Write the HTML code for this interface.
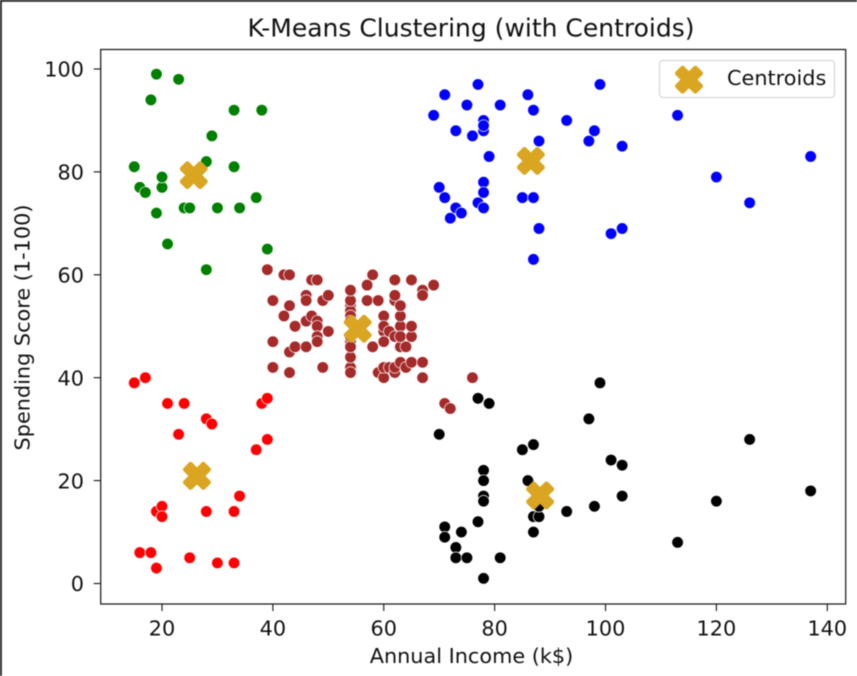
<!DOCTYPE html>
<html>
<head>
<meta charset="utf-8">
<title>K-Means Clustering (with Centroids)</title>
<style>
html,body{margin:0;padding:0;background:#fff;}
body{width:857px;height:676px;overflow:hidden;}
svg{display:block;filter:blur(0.45px);}
text{font-family:"DejaVu Sans","Liberation Sans",sans-serif;fill:#111;}
</style>
</head>
<body>
<svg id="chart" xmlns="http://www.w3.org/2000/svg" width="857" height="676" viewBox="0 0 857 676">
  <rect x="0" y="0" width="857" height="676" fill="#fff"/>
  <path d="M0 680V0H860" fill="none" stroke="#1a1a1a" stroke-width="3.6"/>
  <rect x="100.7" y="49.5" width="745" height="554.5" fill="#fff"/>
  <g id="clusters"></g>
  <g id="centroids"></g>
  <rect x="100.7" y="49.5" width="745" height="554.5" fill="none" stroke="#111" stroke-width="1.2"/>
  <g id="x-ticks"></g>
  <g id="y-ticks"></g>
  <text x="471" y="36.5" font-size="25" text-anchor="middle">K-Means Clustering (with Centroids)</text>
  <text x="471.5" y="663" font-size="20.8" text-anchor="middle">Annual Income (k$)</text>
  <text transform="translate(29.5,327.5) rotate(-90)" font-size="20.8" text-anchor="middle">Spending Score (1-100)</text>
  <g>
    <rect x="659.5" y="60.5" width="175" height="37" rx="3.5" fill="#fff" fill-opacity="0.8" stroke="#d6d6d6" stroke-width="1.2"/>
    <g id="legend-marker"></g>
    <text x="727" y="85" font-size="20.8">Centroids</text>
  </g>
</svg>
<script>
// Green cluster: low income, high spending
const greenIncome = [15,16,17,18,19,19,20,20,21,23,24,25,28,28,29,30,33,33,34,37,38,39];
const greenScore  = [81,77,76,94,99,72,77,79,66,98,73,73,82,61,87,73,92,81,73,75,92,65];
// Red cluster: low income, low spending
const redIncome = [15,16,17,18,19,19,20,20,21,23,24,25,28,28,29,30,33,33,34,37,38,39,39];
const redScore  = [39,6,40,6,3,14,15,13,35,29,35,5,14,32,31,4,4,14,17,26,35,36,28];
// Brown cluster: middle income, middle spending
const brownIncome = [39,40,40,40,40,42,42,43,43,43,43,44,44,46,46,46,46,47,47,48,48,48,48,48,48,49,49,50,50,54,54,54,54,54,54,54,54,54,54,54,54,57,57,58,58,59,59,60,60,60,60,60,60,61,61,62,62,62,62,62,62,63,63,63,63,63,63,64,64,65,65,65,65,67,67,67,67,69,71,72,76];
const brownScore  = [61,55,47,42,42,52,60,54,60,45,41,50,46,51,46,56,55,52,59,51,59,50,48,59,47,55,42,49,56,47,54,53,48,52,42,51,55,41,44,57,46,58,55,60,46,55,41,49,40,42,52,47,50,42,49,41,48,59,55,56,42,50,46,43,48,52,54,42,46,48,50,43,59,43,57,56,40,58,35,34,40];
// Black cluster: high income, low spending
const blackIncome = [70,71,71,73,73,73,74,75,77,77,78,78,78,78,78,79,81,85,86,87,87,87,88,88,93,97,98,99,101,103,103,113,120,126,137];
const blackScore  = [29,11,9,5,7,5,10,5,36,12,22,17,20,16,1,35,5,26,20,27,13,10,13,15,14,32,15,39,24,17,23,8,16,28,18];
// Blue cluster: high income, high spending
const blueIncome = [69,70,71,71,72,73,73,74,75,76,77,77,78,78,78,78,78,78,79,81,85,86,87,87,87,88,88,93,97,98,99,101,103,103,113,120,126,137];
const blueScore  = [91,77,95,75,71,88,73,72,93,87,97,74,90,88,78,73,76,89,83,93,75,95,63,75,92,86,69,90,86,88,97,68,85,69,91,79,74,83];
// K-means centroids
const centroidIncome = [26.3,25.73,55.3,88.2,86.54];
const centroidScore  = [20.91,79.36,49.52,17.11,82.13];
// Axis ticks
const xTickLabels = [20,40,60,80,100,120,140];
const yTickLabels = [0,20,40,60,80,100];

const NS = 'http://www.w3.org/2000/svg';
function xScale(v){ return 162 + (v - 20) * 5.544; }
function yScale(v){ return 583.5 - v * 5.145; }

function xMarkerPoints(cx, cy, u){
  const shape = [[-1,-2],[0,-1],[1,-2],[2,-1],[1,0],[2,1],[1,2],[0,1],[-1,2],[-2,1],[-1,0],[-2,-1]];
  return shape.map(function(p){ return (cx + p[0]*u) + ',' + (cy + p[1]*u); }).join(' ');
}

function drawCluster(parentEl, incomes, scores, color){
  for (let i = 0; i < incomes.length; i++) {
    const dot = document.createElementNS(NS, 'circle');
    
    
    dot.setAttribute('cx', xScale(incomes[i]));
    dot.setAttribute('cy', yScale(scores[i]));
    dot.setAttribute('r', 5.8);
    dot.setAttribute('fill', color);
    dot.setAttribute('stroke', '#fff');
    dot.setAttribute('stroke-width', 0.7);
    parentEl.appendChild(dot);
  }
}

const clustersEl = document.getElementById('clusters');
drawCluster(clustersEl, greenIncome, greenScore, '#008000');
drawCluster(clustersEl, redIncome, redScore, '#ff0000');
drawCluster(clustersEl, brownIncome, brownScore, '#a52a2a');
drawCluster(clustersEl, blackIncome, blackScore, '#000000');
drawCluster(clustersEl, blueIncome, blueScore, '#0000ff');

const centroidsEl = document.getElementById('centroids');
for (let i = 0; i < centroidIncome.length; i++) {
  const marker = document.createElementNS(NS, 'polygon');
  
  
  marker.setAttribute('points', xMarkerPoints(xScale(centroidIncome[i]), yScale(centroidScore[i]), 6.4));
  marker.setAttribute('fill', '#daa520');
  marker.setAttribute('stroke', '#daa520');
  marker.setAttribute('stroke-width', 3);
  marker.setAttribute('stroke-linejoin', 'bevel');
  centroidsEl.appendChild(marker);
}

const legendMarkerEl = document.createElementNS(NS, 'polygon');


legendMarkerEl.setAttribute('points', xMarkerPoints(689, 79.7, 6.4));
legendMarkerEl.setAttribute('fill', '#daa520');
legendMarkerEl.setAttribute('stroke', '#daa520');
legendMarkerEl.setAttribute('stroke-width', 3);
legendMarkerEl.setAttribute('stroke-linejoin', 'bevel');
document.getElementById('legend-marker').appendChild(legendMarkerEl);

const xTicksEl = document.getElementById('x-ticks');
xTickLabels.forEach(function(v){
  const tick = document.createElementNS(NS, 'line');
  
  
  tick.setAttribute('x1', xScale(v));
  tick.setAttribute('x2', xScale(v));
  tick.setAttribute('y1', 604);
  tick.setAttribute('y2', 611);
  tick.setAttribute('stroke', '#111');
  tick.setAttribute('stroke-width', 1.1);
  xTicksEl.appendChild(tick);
  const label = document.createElementNS(NS, 'text');
  
  
  label.setAttribute('x', xScale(v));
  label.setAttribute('y', 635.5);
  label.setAttribute('font-size', 20.8);
  label.setAttribute('text-anchor', 'middle');
  label.textContent = v;
  xTicksEl.appendChild(label);
});

const yTicksEl = document.getElementById('y-ticks');
yTickLabels.forEach(function(v){
  const tick = document.createElementNS(NS, 'line');
  
  
  tick.setAttribute('x1', 93.7);
  tick.setAttribute('x2', 100.7);
  tick.setAttribute('y1', yScale(v));
  tick.setAttribute('y2', yScale(v));
  tick.setAttribute('stroke', '#111');
  tick.setAttribute('stroke-width', 1.1);
  yTicksEl.appendChild(tick);
  const label = document.createElementNS(NS, 'text');
  
  
  label.setAttribute('x', 84);
  label.setAttribute('y', yScale(v) + 7.7);
  label.setAttribute('font-size', 20.8);
  label.setAttribute('text-anchor', 'end');
  label.textContent = v;
  yTicksEl.appendChild(label);
});
</script>
</body>
</html>
